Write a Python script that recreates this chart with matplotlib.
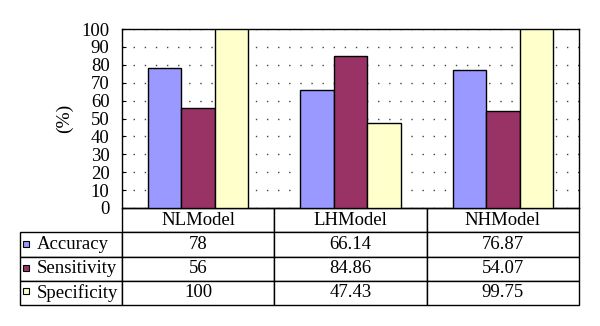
import matplotlib.pyplot as plt
from matplotlib.patches import Rectangle
import numpy as np

plt.rcParams['font.family'] = ['Liberation Serif']

models = ['NLModel', 'LHModel', 'NHModel']
series = ['Accuracy', 'Sensitivity', 'Specificity']
accuracy = [78, 66.14, 76.87]
sensitivity = [56, 84.86, 54.07]
specificity = [100, 47.43, 99.75]
labels_txt = [['78', '66.14', '76.87'],
              ['56', '84.86', '54.07'],
              ['100', '47.43', '99.75']]
colors = ['#9999ff', '#993366', '#ffffcc']

W, H = 600, 326
fig = plt.figure(figsize=(6, 3.26), dpi=100)
# axes box in pixels: left 122, right 579, top 29, bottom 208
ax = fig.add_axes([122 / W, 1 - 208 / H, (579 - 122) / W, (208 - 29) / H])

x = np.arange(len(models))
bw = 0.22
for i, vals in enumerate([accuracy, sensitivity, specificity]):
    ax.bar(x + (i - 1) * bw, vals, bw, color=colors[i], edgecolor='black',
           linewidth=1, zorder=3)

ax.set_xlim(-0.5, 2.5)
ax.set_ylim(0, 100)
ax.set_yticks(range(0, 101, 10))
ax.set_xticks([])
ax.tick_params(axis='y', direction='in', length=3, labelsize=13.5, pad=9)
ax.yaxis.grid(True, linestyle=(0, (1, 7)), color='#444444', linewidth=1)
ax.set_axisbelow(True)
for s in ax.spines.values():
    s.set_linewidth(1)
ax.set_ylabel('(%)', fontsize=14, labelpad=6)

# data table under the axes
cell_text = [[''] + models]
for name, row in zip(series, labels_txt):
    cell_text.append([name] + row)
x0 = (20 - 122) / (579 - 122)
y0 = (208 - 305) / (208 - 29)
tb = ax.table(cellText=cell_text, bbox=[x0, y0, 1 - x0, -y0],
              colWidths=[102, 152.3, 152.3, 152.3], cellLoc='center')
tb.auto_set_font_size(False)
tb.set_fontsize(13.5)
for (r, c), cell in tb.get_celld().items():
    cell.set_linewidth(1)
    if r == 0 and c == 0:
        cell.visible_edges = ''
    elif c == 0:
        cell.get_text().set_ha('left')
        cell.PAD = 0.16

# legend keys in the row label cells
for i in range(3):
    ycen = 1 - (234 + 12 + i * 23.7) / H
    fig.patches.append(Rectangle((23 / W, ycen - 1 / H), 6 / W, 6 / H,
                                 transform=fig.transFigure, facecolor=colors[i],
                                 edgecolor='black', linewidth=0.8))

fig.savefig('out.png', dpi=100)
